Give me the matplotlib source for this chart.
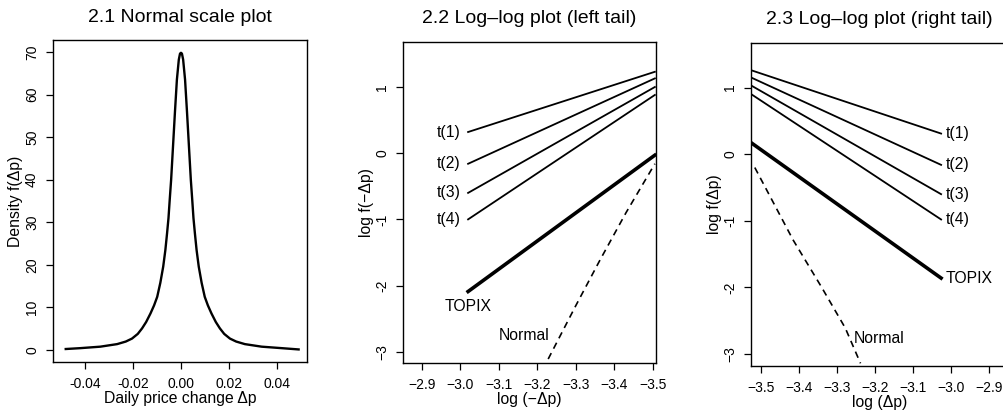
import matplotlib
matplotlib.use("Agg")
import matplotlib.pyplot as plt

plt.rcParams["font.family"] = ["Liberation Sans", "DejaVu Sans"]

# 2.1 density
DENS_X = [-0.048, -0.042, -0.0336, -0.0266, -0.0230, -0.0204, -0.018, -0.0162,
          -0.0145, -0.0127, -0.0112, -0.0099, -0.0086, -0.0074, -0.0065, -0.0058,
          -0.0052, -0.0047, -0.0041, -0.0033, -0.0025, -0.0017, -0.0009, -0.0004,
          0.0,
          0.0004, 0.0009, 0.0017, 0.0025, 0.0033, 0.0041, 0.0047, 0.0052,
          0.0058, 0.0065, 0.0074, 0.0086, 0.0099, 0.0112, 0.0127, 0.0145,
          0.0162, 0.018, 0.0204, 0.0230, 0.0266, 0.0336, 0.042, 0.049]
DENS_Y = [0.25, 0.45, 0.8, 1.4, 2.0, 2.7, 3.8, 5.1,
          6.6, 8.6, 10.5, 12.5, 15.8, 19.6, 23.5, 27.4,
          31.0, 35.2, 40.0, 48.0, 56.0, 63.5, 68.2, 69.6,
          69.8,
          69.6, 68.2, 63.5, 56.0, 48.0, 40.0, 35.2, 31.0,
          27.4, 23.5, 19.6, 15.8, 12.5, 10.5, 8.6, 6.6,
          5.1, 3.8, 2.7, 2.0, 1.4, 0.8, 0.45, 0.15]

# 2.2 left tail
LEFT_X = [-3.02, -3.505]
LEFT_T = {
    "t(1)": [0.32, 1.23],
    "t(2)": [-0.16, 1.13],
    "t(3)": [-0.60, 1.00],
    "t(4)": [-1.00, 0.88],
}
LEFT_TOPIX_Y = [-2.09, -0.03]
LEFT_NORMAL_X = [-3.228, -3.30, -3.362, -3.43, -3.505]
LEFT_NORMAL_Y = [-3.11, -2.30, -1.62, -0.90, -0.16]

# 2.3 right tail
RIGHT_X = [-3.525, -3.026]
RIGHT_T = {
    "t(1)": [1.26, 0.31],
    "t(2)": [1.15, -0.16],
    "t(3)": [1.03, -0.60],
    "t(4)": [0.90, -0.98],
}
RIGHT_TOPIX_Y = [0.17, -1.86]
RIGHT_NORMAL_X = [-3.516, -3.415, -3.34, -3.278, -3.238]
RIGHT_NORMAL_Y = [-0.20, -1.29, -2.00, -2.61, -3.14]

LOG_TICKS = [-2.9, -3.0, -3.1, -3.2, -3.3, -3.4, -3.5]
LOG_LABELS = ["\u22122.9", "\u22123.0", "\u22123.1", "\u22123.2",
              "\u22123.3", "\u22123.4", "\u22123.5"]
Y_TICKS = [-3, -2, -1, 0, 1]
Y_LABELS = ["\u22123", "-2", "-1", "0", "1"]

TITLE_SIZE = 14
LABEL_SIZE = 11.3
TEXT_SIZE = 11.3


def style_axes(ax):
    ax.tick_params(direction="out", length=5, width=0.9, labelsize=10)
    ax.tick_params(axis="x", pad=6)
    ax.tick_params(axis="y", pad=5)
    for spine in ax.spines.values():
        spine.set_linewidth(1.0)
    for lab in ax.get_yticklabels():
        lab.set_rotation(90)
        lab.set_va("center")


fig = plt.figure(figsize=(10.04, 4.15), dpi=100)

# panel 2.1
ax1 = fig.add_axes([0.0528, 0.1277, 0.2530, 0.7759])
ax1.plot(DENS_X, DENS_Y, color="black", linewidth=1.7, solid_joinstyle="round")
ax1.set_xlim(-0.0533, 0.0525)
ax1.set_ylim(-2.8, 72.8)
ax1.set_xticks([-0.04, -0.02, 0.0, 0.02, 0.04])
ax1.set_xticklabels(["-0.04", "-0.02", "0.00", "0.02", "0.04"])
ax1.set_yticks([0, 10, 20, 30, 40, 50, 60, 70])
ax1.set_yticklabels(["0", "10", "20", "30", "40", "50", "60", "70"])
ax1.set_xlabel("Daily price change \u0394p", fontsize=LABEL_SIZE, labelpad=0)
ax1.set_ylabel("Density f(\u0394p)", fontsize=LABEL_SIZE, labelpad=1.5)
ax1.set_title("2.1 Normal scale plot", fontsize=TITLE_SIZE, pad=13)
style_axes(ax1)

# panel 2.2
ax2 = fig.add_axes([0.4014, 0.1253, 0.2520, 0.7735])
for name, ys in LEFT_T.items():
    ax2.plot(LEFT_X, ys, color="black", linewidth=1.3)
    ax2.text(LEFT_X[0] + 0.02, ys[0], name, ha="right", va="center",
             fontsize=TEXT_SIZE)
ax2.plot(LEFT_X, LEFT_TOPIX_Y, color="black", linewidth=2.6)
ax2.text(LEFT_X[0], LEFT_TOPIX_Y[0] - 0.22, "TOPIX", ha="center",
         va="center", fontsize=TEXT_SIZE)
ax2.plot(LEFT_NORMAL_X, LEFT_NORMAL_Y, color="black", linewidth=1.2,
         linestyle=(0, (4, 3)))
ax2.text(LEFT_NORMAL_X[0] - 0.004, -2.76, "Normal", ha="right", va="center",
         fontsize=TEXT_SIZE)
ax2.set_xlim(-2.851, -3.508)
ax2.set_ylim(-3.17, 1.68)
ax2.set_xticks(LOG_TICKS)
ax2.set_xticklabels(LOG_LABELS)
ax2.set_yticks(Y_TICKS)
ax2.set_yticklabels(Y_LABELS)
ax2.set_xlabel("log (\u2212\u0394p)", fontsize=LABEL_SIZE, labelpad=0)
ax2.set_ylabel("log f(\u2212\u0394p)", fontsize=LABEL_SIZE, labelpad=1)
ax2.set_title("2.2 Log\u2013log plot (left tail)", fontsize=TITLE_SIZE, pad=14)
style_axes(ax2)

# panel 2.3 (cut off on the right like the reference)
ax3 = fig.add_axes([0.748, 0.1181, 0.2560, 0.7783])
for name, ys in RIGHT_T.items():
    ax3.plot(RIGHT_X, ys, color="black", linewidth=1.3)
    ax3.text(RIGHT_X[1] + 0.013, ys[1], name, ha="left", va="center",
             fontsize=TEXT_SIZE)
ax3.plot(RIGHT_X, RIGHT_TOPIX_Y, color="black", linewidth=2.6)
ax3.text(RIGHT_X[1] + 0.013, RIGHT_TOPIX_Y[1], "TOPIX", ha="left",
         va="center", fontsize=TEXT_SIZE)
ax3.plot(RIGHT_NORMAL_X, RIGHT_NORMAL_Y, color="black", linewidth=1.2,
         linestyle=(0, (4, 3)))
ax3.text(-3.255, -2.76, "Normal", ha="left", va="center", fontsize=TEXT_SIZE)
ax3.set_xlim(-3.526, -2.85)
ax3.set_ylim(-3.18, 1.67)
ax3.set_xticks(LOG_TICKS)
ax3.set_xticklabels(LOG_LABELS)
ax3.set_yticks(Y_TICKS)
ax3.set_yticklabels(Y_LABELS)
ax3.set_xlabel("log (\u0394p)", fontsize=LABEL_SIZE, labelpad=0)
ax3.set_ylabel("log f(\u0394p)", fontsize=LABEL_SIZE, labelpad=1)
ax3.set_title("2.3 Log\u2013log plot (right tail)", fontsize=TITLE_SIZE, pad=14)
style_axes(ax3)

fig.savefig("out.png", dpi=100)
plt.close(fig)
